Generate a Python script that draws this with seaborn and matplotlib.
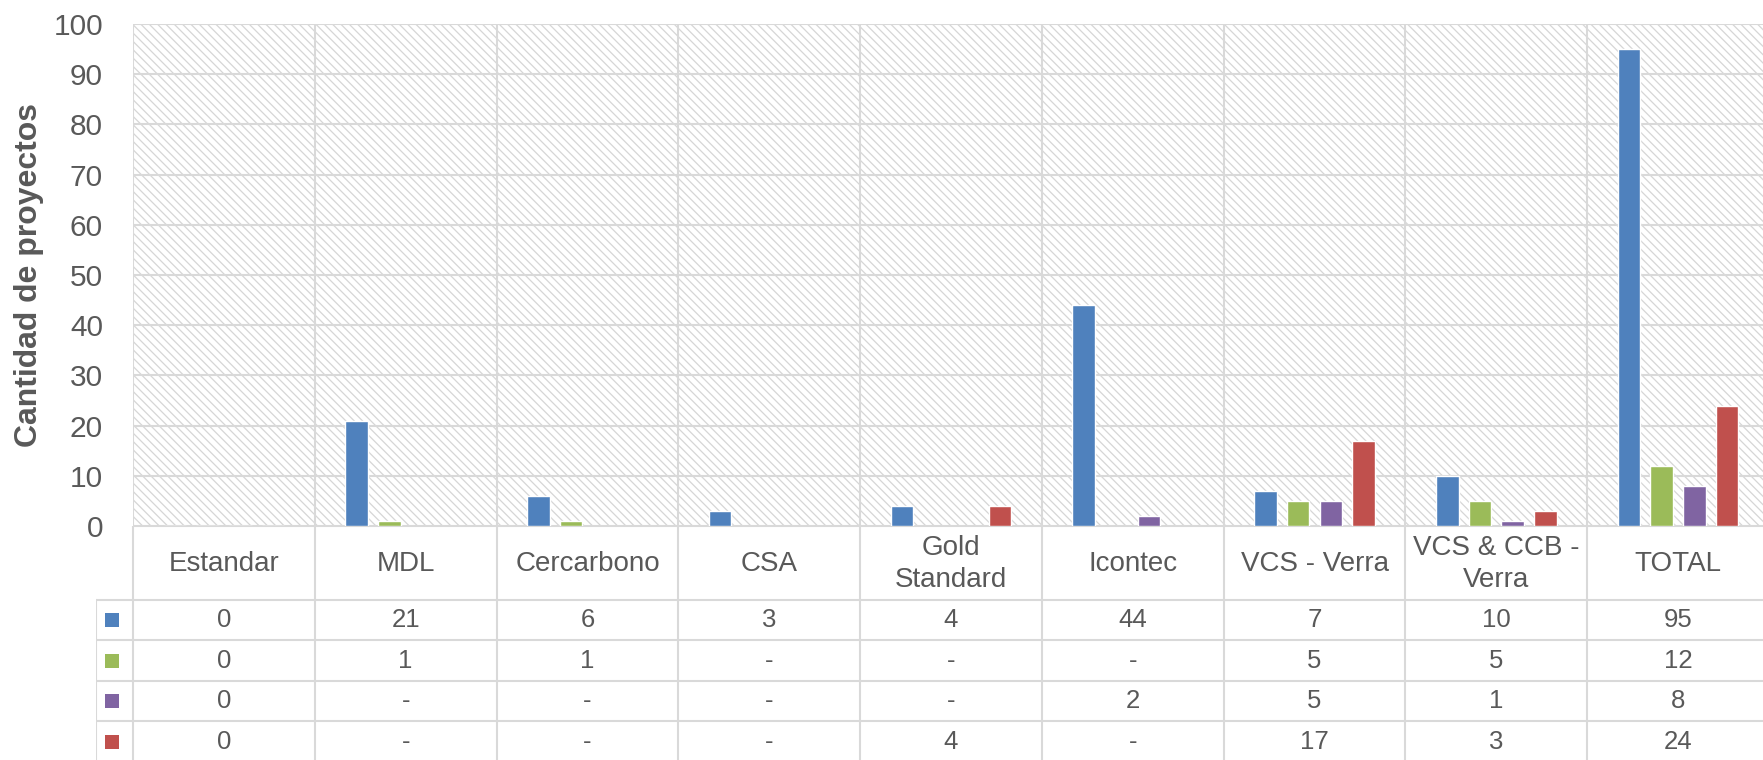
"""
Proyectos por estándar de certificación: barras agrupadas con tabla de datos
debajo, al estilo de un gráfico de Excel.
"""
import numpy as np
import pandas as pd
import matplotlib
matplotlib.use("Agg")
import matplotlib.pyplot as plt
from matplotlib.patches import Rectangle
import seaborn as sns

CATEGORIES = ["Estandar", "MDL", "Cercarbono", "CSA", "Gold\nStandard",
              "Icontec", "VCS - Verra", "VCS & CCB -\nVerra", "TOTAL"]
SERIES = ["Serie 1", "Serie 2", "Serie 3", "Serie 4"]
SERIE_1 = [0, 21, 6, 3, 4, 44, 7, 10, 95]
SERIE_2 = [0, 1, 1, None, None, None, 5, 5, 12]
SERIE_3 = [0, None, None, None, None, 2, 5, 1, 8]
SERIE_4 = [0, None, None, None, 4, None, 17, 3, 24]
Y_TICKS = list(range(0, 101, 10))
Y_LABEL = "Cantidad de proyectos"

COLORS = ["#4F81BD", "#9BBB59", "#8064A2", "#C0504D"]
TEXT_COLOR = "#595959"
GRID_COLOR = "#d9d9d9"
HATCH_COLOR = "#d6d6d6"

W, H = 1763, 760
AX_LEFT, AX_TOP, AX_BOTTOM = 133, 24, 526
COL_W = 181.78
LEG_LEFT = 96
HEADER_H = 74
ROW_H = 40.5


def build_frame():
    rows = []
    for name, values in zip(SERIES, [SERIE_1, SERIE_2, SERIE_3, SERIE_4]):
        for cat, v in zip(CATEGORIES, values):
            rows.append({"estandar": cat, "serie": name,
                         "valor": np.nan if v is None else v})
    return pd.DataFrame(rows)


def main():
    sns.set_theme(style="white")
    plt.rcParams["font.family"] = ["Liberation Sans", "DejaVu Sans"]
    plt.rcParams["hatch.linewidth"] = 0.9

    df = build_frame()
    fig = plt.figure(figsize=(W / 100, H / 100), dpi=100)
    fig.patch.set_facecolor("white")

    ax_w = 9 * COL_W
    ax = fig.add_axes([AX_LEFT / W, 1 - AX_BOTTOM / H,
                       ax_w / W, (AX_BOTTOM - AX_TOP) / H])

    # fondo rayado
    ax.add_patch(Rectangle((0, 0), 1, 1, transform=ax.transAxes,
                           facecolor="white", edgecolor=HATCH_COLOR,
                           hatch="\\" * 4, lw=0, zorder=0))

    sns.barplot(data=df, x="estandar", y="valor", hue="serie",
                order=CATEGORIES, hue_order=SERIES, palette=COLORS,
                width=0.72, gap=0.31, errorbar=None, legend=False,
                saturation=1, ax=ax, zorder=2)

    ax.set_xlim(-0.5, 8.5)
    ax.set_ylim(0, 100)
    ax.set_yticks(Y_TICKS)
    ax.set_xticks([])
    ax.set_xlabel("")
    for y in Y_TICKS:
        ax.axhline(y, color=GRID_COLOR, lw=1.5, zorder=1)
    for x in np.arange(-0.5, 9, 1):
        ax.axvline(x, color=GRID_COLOR, lw=1.5, zorder=1)
    for s in ax.spines.values():
        s.set_visible(False)
    ax.tick_params(axis="y", length=0, pad=21.6, labelsize=21.5,
                   labelcolor=TEXT_COLOR)
    ax.set_ylabel(Y_LABEL, fontsize=23, fontweight="bold",
                  color=TEXT_COLOR, va="center")
    ax.yaxis.set_label_coords(-(AX_LEFT - 29) / ax_w, 0.5)

    # tabla de datos
    tab_h = HEADER_H + 4 * ROW_H
    x_left = -0.5 - (AX_LEFT - LEG_LEFT) / COL_W
    tax = fig.add_axes([LEG_LEFT / W, 1 - (AX_BOTTOM + tab_h) / H,
                        (AX_LEFT + ax_w - LEG_LEFT) / W, tab_h / H])
    tax.set_xlim(x_left, 8.5)
    tax.set_ylim(tab_h, 0)
    tax.axis("off")

    tax.plot([-0.5, 8.5], [0, 0], color=GRID_COLOR, lw=1.5)
    for k in range(4):
        y = HEADER_H + k * ROW_H
        tax.plot([x_left, 8.5], [y, y], color=GRID_COLOR, lw=1.5)
    for x in np.arange(-0.5, 9, 1):
        tax.plot([x, x], [0, tab_h], color=GRID_COLOR, lw=1.5)
    tax.plot([x_left, x_left], [HEADER_H, tab_h], color=GRID_COLOR, lw=1.5)

    for i, cat in enumerate(CATEGORIES):
        tax.text(i, HEADER_H / 2 + 1, cat, ha="center", va="center",
                 fontsize=20, color=TEXT_COLOR, linespacing=1.28)

    leg_x = -0.5 - (AX_LEFT - 111.5) / COL_W
    for k, values in enumerate([SERIE_1, SERIE_2, SERIE_3, SERIE_4]):
        yc = HEADER_H + (k + 0.5) * ROW_H
        tax.scatter([leg_x], [yc], marker="s", s=(15 / 1.389) ** 2,
                    color=COLORS[k], linewidths=0)
        for i, v in enumerate(values):
            tax.text(i, yc, "-" if v is None else str(v), ha="center",
                     va="center", fontsize=18.5, color=TEXT_COLOR)

    fig.savefig("out.png", dpi=100, facecolor="white")


if __name__ == "__main__":
    main()
